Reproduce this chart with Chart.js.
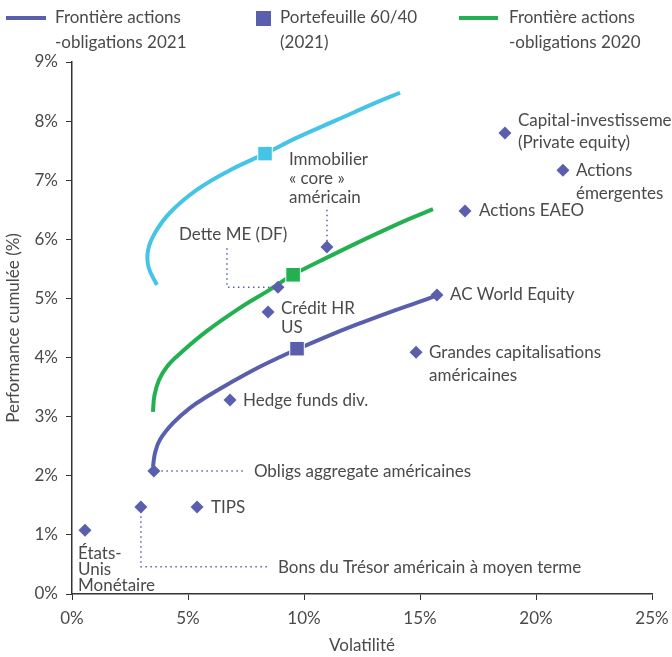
<!DOCTYPE html>
<html lang="fr">
<head>
<meta charset="utf-8">
<title>Frontières actions-obligations</title>
<script src="https://cdn.jsdelivr.net/npm/chart.js@4.4.1/dist/chart.umd.min.js"></script>
<style>
    html, body { margin: 0; padding: 0; background: #fff; }
</style>
</head>
<body>
<canvas id="frontierChart" width="672" height="657"></canvas>
<script>
// Classes d'actifs : volatilité (%) et performance cumulée (%)
const assetLabels = [
    ['États-', 'Unis', 'Monétaire'],
    ['Bons du Trésor américain à moyen terme'],
    ['TIPS'],
    ['Obligs aggregate américaines'],
    ['Hedge funds div.'],
    ['Crédit HR', 'US'],
    ['Dette ME (DF)'],
    ['Immobilier', '« core »', 'américain'],
    ['Grandes capitalisations', 'américaines'],
    ['AC World Equity'],
    ['Actions EAEO'],
    ['Actions', 'émergentes'],
    ['Capital-investissement', '(Private equity)']
];
const assetVol = [0.56, 2.97, 5.39, 3.53, 6.81, 8.45, 8.88, 10.99, 14.83, 15.73, 16.94, 21.16, 18.66];
const assetRet = [1.08, 1.47, 1.47, 2.08, 3.28, 4.77, 5.19, 5.87, 4.09, 5.06, 6.48, 7.17, 7.80];

// Frontière actions-obligations 2021 (violet)
const frontier2021Vol = [3.49, 3.58, 3.79, 4.35, 5.09, 5.82, 6.81, 7.97, 8.97, 9.70, 10.82, 12.28, 13.71, 14.87, 15.73];
const frontier2021Ret = [2.15, 2.39, 2.61, 2.89, 3.15, 3.34, 3.57, 3.82, 4.01, 4.14, 4.33, 4.56, 4.77, 4.93, 5.05];

// Frontière actions-obligations 2020 (vert)
const frontier2020Vol = [3.49, 3.55, 3.75, 4.10, 4.66, 5.82, 7.24, 8.41, 9.53, 10.99, 12.72, 14.44, 15.56];
const frontier2020Ret = [3.08, 3.35, 3.62, 3.85, 4.07, 4.45, 4.84, 5.12, 5.40, 5.69, 6.02, 6.33, 6.51];

// Frontière bleu clair
const frontierBlueVol = [3.66, 3.30, 3.28, 3.58, 4.22, 5.39, 6.81, 8.32, 9.70, 11.42, 13.15, 14.14];
const frontierBlueRet = [5.23, 5.53, 5.82, 6.11, 6.45, 6.84, 7.17, 7.45, 7.72, 8.02, 8.32, 8.48];

// Portefeuilles 60/40 : violet, vert, bleu clair
const portfolioVol = [9.70, 9.53, 8.32];
const portfolioRet = [4.15, 5.40, 7.45];

const xTicks = [0, 5, 10, 15, 20, 25];
const yTicks = [0, 1, 2, 3, 4, 5, 6, 7, 8, 9];

// décalage des étiquettes en pixels : [dx, dy, interligne]
const labelPos = [
    [-7, 23, 16], [137, 60, 0], [14, 0, 0], [100, 0, 0], [13, 0, 0], [13, -4, 19],
    [-99, -53, 0], [-38, -88, 19], [13, 0, 23], [13, 0, 0], [14, 0, 0], [13, 0, 23], [13, -12, 22]
];

// lignes pointillées de repère (en %)
const leaderLines = [
    [[2.97, 1.40], [2.97, 0.46], [8.5, 0.46]],
    [[3.85, 2.08], [7.45, 2.08]],
    [[6.68, 5.85], [6.68, 5.19], [8.6, 5.19]],
    [[10.99, 6.50], [10.99, 5.97]]
];

const PURPLE = '#5a5fad';
const GREEN = '#22b050';
const BLUE = '#45c4e6';
const TEXT = '#4a4a4a';
const FONT = 'Lato, "Open Sans", sans-serif';

function toPoints(xs, ys) {
    return xs.map((x, i) => ({ x: x, y: ys[i] }));
}

// Étiquettes, pointillés et légende
const annotationPlugin = {
    id: 'annotations',
    afterDatasetsDraw(chart) {
        const ctx = chart.ctx;
        const xs = chart.scales.x, ys = chart.scales.y;

        ctx.save();
        ctx.strokeStyle = PURPLE;
        ctx.lineWidth = 1.5;
        ctx.setLineDash([1.5, 3.5]);
        leaderLines.forEach(line => {
            ctx.beginPath();
            line.forEach((p, i) => {
                const px = xs.getPixelForValue(p[0]);
                const py = ys.getPixelForValue(p[1]);
                if (i === 0) ctx.moveTo(px, py); else ctx.lineTo(px, py);
            });
            ctx.stroke();
        });
        ctx.restore();

        ctx.save();
        ctx.fillStyle = TEXT;
        ctx.font = '17px ' + FONT;
        ctx.textAlign = 'left';
        ctx.textBaseline = 'middle';
        assetLabels.forEach((lines, i) => {
            const px = xs.getPixelForValue(assetVol[i]) + labelPos[i][0];
            const py = ys.getPixelForValue(assetRet[i]) + labelPos[i][1];
            lines.forEach((t, j) => ctx.fillText(t, px, py + j * labelPos[i][2]));
        });
        ctx.restore();
    },
    afterDraw(chart) {
        const ctx = chart.ctx;
        ctx.save();
        ctx.font = '17px ' + FONT;
        ctx.fillStyle = TEXT;
        ctx.textBaseline = 'middle';

        ctx.lineWidth = 4;
        ctx.strokeStyle = PURPLE;
        ctx.beginPath(); ctx.moveTo(6, 18); ctx.lineTo(46, 18); ctx.stroke();
        ctx.fillText('Frontière actions', 55, 18);
        ctx.fillText('-obligations 2021', 55, 43);

        ctx.fillStyle = PURPLE;
        ctx.fillRect(256, 11, 15, 15);
        ctx.fillStyle = TEXT;
        ctx.fillText('Portefeuille 60/40', 280, 18);
        ctx.fillText('(2021)', 280, 43);

        ctx.strokeStyle = GREEN;
        ctx.beginPath(); ctx.moveTo(459, 18); ctx.lineTo(498, 18); ctx.stroke();
        ctx.fillText('Frontière actions', 509, 18);
        ctx.fillText('-obligations 2020', 509, 43);
        ctx.restore();
    }
};

Chart.defaults.font.family = FONT;
Chart.defaults.font.size = 17;
Chart.defaults.color = TEXT;

new Chart(document.getElementById('frontierChart'), {
    type: 'scatter',
    data: {
        datasets: [
            {
                label: 'Portefeuille 60/40',
                data: toPoints(portfolioVol, portfolioRet),
                pointStyle: 'rect',
                pointRadius: 10.3,
                backgroundColor: [PURPLE, GREEN, BLUE],
                borderColor: '#ffffff',
                borderWidth: 1,
                order: 1
            },
            {
                label: 'Classes d\'actifs',
                data: toPoints(assetVol, assetRet),
                pointStyle: 'rectRot',
                pointRadius: 6.5,
                backgroundColor: PURPLE,
                borderColor: PURPLE,
                borderWidth: 0,
                order: 2
            },
            {
                label: 'Frontière actions-obligations 2021',
                data: toPoints(frontier2021Vol, frontier2021Ret),
                showLine: true,
                borderColor: PURPLE,
                borderWidth: 4,
                pointRadius: 0,
                tension: 0.4,
                order: 3
            },
            {
                label: 'Frontière actions-obligations 2020',
                data: toPoints(frontier2020Vol, frontier2020Ret),
                showLine: true,
                borderColor: GREEN,
                borderWidth: 4,
                pointRadius: 0,
                tension: 0.4,
                order: 3
            },
            {
                label: 'Frontière',
                data: toPoints(frontierBlueVol, frontierBlueRet),
                showLine: true,
                borderColor: BLUE,
                borderWidth: 4,
                pointRadius: 0,
                tension: 0.4,
                order: 3
            }
        ]
    },
    options: {
        responsive: false,
        animation: false,
        layout: { padding: { top: 62, right: 20, left: 0, bottom: 0 } },
        plugins: {
            legend: { display: false },
            tooltip: { enabled: false }
        },
        scales: {
            x: {
                type: 'linear',
                min: 0,
                max: 25,
                afterBuildTicks: axis => { axis.ticks = xTicks.map(v => ({ value: v })); },
                afterFit: axis => {
                    axis.height = 63;
                    axis.paddingLeft = 0;
                    axis.paddingRight = 0;
                },
                ticks: { padding: 8, callback: v => v + '%' },
                grid: { drawOnChartArea: false, tickLength: 6, color: '#333' },
                border: { color: '#333', width: 1.5 },
                title: { display: true, text: 'Volatilité', padding: { top: 2, bottom: 1 } }
            },
            y: {
                type: 'linear',
                min: 0,
                max: 9,
                afterBuildTicks: axis => { axis.ticks = yTicks.map(v => ({ value: v })); },
                afterFit: axis => {
                    axis.width = 72;
                    axis.paddingTop = 0;
                    axis.paddingBottom = 0;
                },
                ticks: { padding: 8, callback: v => v + '%' },
                grid: { drawOnChartArea: false, tickLength: 6, color: '#333' },
                border: { color: '#333', width: 1.5 },
                title: { display: true, text: 'Performance cumulée (%)', padding: { top: 3, bottom: 2 } }
            }
        }
    },
    plugins: [annotationPlugin]
});
</script>
</body>
</html>
